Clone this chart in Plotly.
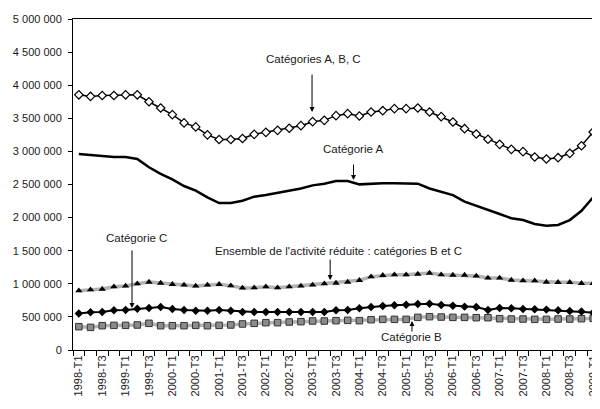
import plotly.graph_objects as go

quarters = [
    "1998-T1", "1998-T2", "1998-T3", "1998-T4",
    "1999-T1", "1999-T2", "1999-T3", "1999-T4",
    "2000-T1", "2000-T2", "2000-T3", "2000-T4",
    "2001-T1", "2001-T2", "2001-T3", "2001-T4",
    "2002-T1", "2002-T2", "2002-T3", "2002-T4",
    "2003-T1", "2003-T2", "2003-T3", "2003-T4",
    "2004-T1", "2004-T2", "2004-T3", "2004-T4",
    "2005-T1", "2005-T2", "2005-T3", "2005-T4",
    "2006-T1", "2006-T2", "2006-T3", "2006-T4",
    "2007-T1", "2007-T2", "2007-T3", "2007-T4",
    "2008-T1", "2008-T2", "2008-T3", "2008-T4",
    "2009-T1",
]
tick_labels = [
    "1998-T1", "1998-T3", "1999-T1", "1999-T3", "2000-T1", "2000-T3",
    "2001-T1", "2001-T3", "2002-T1", "2002-T3", "2003-T1", "2003-T3",
    "2004-T1", "2004-T3", "2005-T1", "2005-T3", "2006-T1", "2006-T3",
    "2007-T1", "2007-T3", "2008-T1", "2008-T3", "2009-T1",
]

cat_abc = [
    3855000, 3830000, 3845000, 3845000, 3855000, 3855000, 3750000, 3655000,
    3555000, 3430000, 3370000, 3250000, 3180000, 3180000, 3195000, 3258000,
    3288000, 3318000, 3350000, 3389000, 3449000, 3469000, 3540000, 3570000,
    3535000, 3595000, 3615000, 3646000, 3646000, 3656000, 3595000, 3525000,
    3444000, 3343000, 3263000, 3183000, 3107000, 3031000, 2996000, 2915000,
    2885000, 2905000, 2971000, 3086000, 3293000,
]
cat_a = [
    2960000, 2948000, 2930000, 2915000, 2915000, 2885000, 2760000, 2660000,
    2578000, 2477000, 2407000, 2306000, 2220000, 2220000, 2255000, 2316000,
    2341000, 2376000, 2400000, 2440000, 2487000, 2512000, 2553000, 2553000,
    2502000, 2512000, 2520000, 2520000, 2520000, 2512000, 2440000, 2390000,
    2340000, 2240000, 2180000, 2125000, 2054000, 1990000, 1963000, 1903000,
    1878000, 1888000, 1963000, 2104000, 2306000,
]
ens_bc = [
    896000, 911000, 921000, 956000, 967000, 1002000, 1027000, 1012000,
    992000, 982000, 967000, 982000, 992000, 972000, 937000, 941000,
    956000, 941000, 956000, 967000, 982000, 1002000, 1012000, 1027000,
    1052000, 1108000, 1128000, 1138000, 1138000, 1148000, 1163000, 1138000,
    1133000, 1133000, 1118000, 1088000, 1088000, 1057000, 1047000, 1047000,
    1027000, 1022000, 1022000, 1007000, 1007000,
]
cat_c = [
    552000, 569000, 574000, 600000, 604000, 624000, 634000, 650000,
    620000, 604000, 594000, 594000, 604000, 594000, 574000, 574000,
    574000, 574000, 574000, 574000, 574000, 574000, 600000, 604000,
    630000, 650000, 665000, 675000, 685000, 695000, 700000, 680000,
    670000, 655000, 650000, 604000, 634000, 630000, 620000, 615000,
    610000, 600000, 590000, 580000, 564000,
]
cat_b = [
    352000, 342000, 367000, 372000, 372000, 378000, 403000, 367000,
    367000, 367000, 372000, 367000, 372000, 378000, 393000, 403000,
    413000, 413000, 423000, 428000, 438000, 438000, 443000, 448000,
    443000, 458000, 463000, 463000, 463000, 493000, 503000, 498000,
    493000, 493000, 488000, 488000, 473000, 468000, 468000, 463000,
    463000, 468000, 468000, 473000, 478000,
]

FONT = "Liberation Sans"
GRAY = "#b3b3b3"
TXT = "#1a1a1a"

fig = go.Figure()
fig.add_trace(go.Scatter(
    x=quarters, y=cat_a, mode="lines",
    line=dict(color="black", width=2.5), name="Catégorie A"))
fig.add_trace(go.Scatter(
    x=quarters, y=cat_abc, mode="lines+markers",
    line=dict(color="black", width=1.5),
    marker=dict(symbol="diamond", size=6.5, color="white",
                line=dict(color="black", width=1.2)),
    name="Catégories A, B, C"))
fig.add_trace(go.Scatter(
    x=quarters, y=ens_bc, mode="lines+markers",
    line=dict(color=GRAY, width=3.5),
    marker=dict(symbol="triangle-up", size=6.5, color="black"),
    name="Ensemble B et C"))
fig.add_trace(go.Scatter(
    x=quarters, y=cat_b, mode="lines+markers",
    line=dict(color=GRAY, width=3.5),
    marker=dict(symbol="square", size=6.5, color="#8c8c8c",
                line=dict(color="#333333", width=1)),
    name="Catégorie B"))
fig.add_trace(go.Scatter(
    x=quarters, y=cat_c, mode="lines+markers",
    line=dict(color="black", width=2),
    marker=dict(symbol="diamond", size=6.5, color="black"),
    name="Catégorie C"))

texts = [
    ("Catégories A, B, C", 20.1, 4396000),
    ("Catégorie A", 23.45, 3036000),
    ("Catégorie C", 4.97, 1692000),
    ("Ensemble de l'activité réduite : catégories B et C", 22.25, 1495000),
    ("Catégorie B", 28.5, 196000),
]
arrows = [
    (19.95, 3595000, -39),
    (23.5, 2568000, -17),
    (4.55, 634000, -59),
    (21.5, 1057000, -22),
    (28.5, 438000, 12),
]
annotations = []
for t, x, y in texts:
    annotations.append(dict(text=t, x=x, y=y, xref="x", yref="y",
                            showarrow=False,
                            font=dict(family=FONT, size=11.5, color=TXT)))
for x, y, ay in arrows:
    annotations.append(dict(text="", x=x, y=y, xref="x", yref="y",
                            showarrow=True, ax=0, ay=ay,
                            arrowhead=2, arrowsize=1, arrowwidth=1,
                            arrowcolor="black", standoff=0))

# page body has an 8px margin: size figure to fit the 600x409 window
fig.update_layout(
    width=592, height=401,
    margin=dict(l=65, r=1, t=11, b=59, autoexpand=False),
    paper_bgcolor="white", plot_bgcolor="white",
    showlegend=False,
    separators=", ",
    font=dict(family=FONT, size=11, color=TXT),
    annotations=annotations,
)
fig.update_xaxes(
    type="category",
    categoryorder="array", categoryarray=quarters,
    range=[-0.5, len(quarters) - 0.5],
    tickmode="array", tickvals=quarters,
    ticktext=[q if q in tick_labels else "" for q in quarters],
    tickson="boundaries",
    ticks="outside", ticklen=5, tickcolor="black", tickwidth=1,
    tickangle=-90,
    showline=True, linecolor="black", linewidth=1, mirror=True,
    showgrid=False, zeroline=False, automargin=False,
    ticklabeloverflow="allow",
    tickfont=dict(family=FONT, size=11, color=TXT),
)
fig.update_yaxes(
    range=[0, 5000000], dtick=500000, tick0=0,
    tickformat=",d",
    ticks="outside", ticklen=4, tickcolor="black", tickwidth=1,
    showline=True, linecolor="black", linewidth=1,
    showgrid=False, zeroline=False, automargin=False,
    ticklabelstandoff=4,
    tickfont=dict(family=FONT, size=11, color=TXT),
)

fig.write_html("out.html")
